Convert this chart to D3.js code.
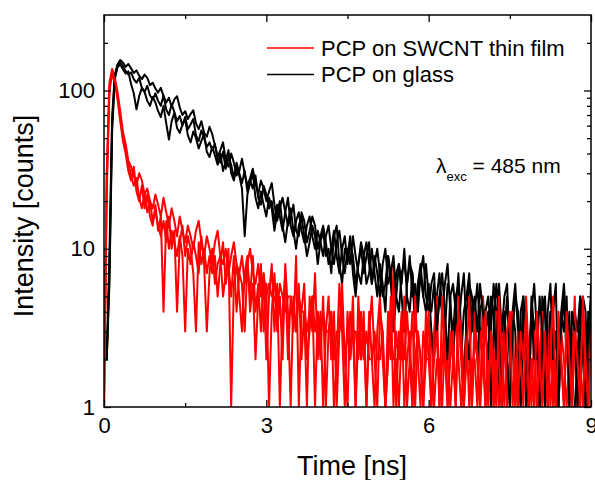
<!DOCTYPE html>
<html>
<head>
<meta charset="utf-8">
<script src="https://cdn.jsdelivr.net/npm/d3@7"></script>
<style>
  body { margin: 0; background: #fff; }
  svg { display: block; font-family: "Liberation Sans", Arial, Helvetica, sans-serif; }
</style>
</head>
<body>
<svg id="chart"></svg>
<script>
// photon counts per channel, channel width 0.05 ns, t = 0 .. 9 ns
const timeStep = 0.05;

const glass1 = [
  2, 2, 9, 68, 126, 146, 156, 150, 141, 147, 138, 129, 134, 124, 118, 126, 120, 108, 112, 103,
  97, 104, 92, 84, 90, 79, 88, 92, 78, 70, 74, 66, 71, 75, 62, 57, 64, 54, 51, 59,
  53, 45, 38, 42, 47, 36, 33, 40, 35, 29, 31, 37, 30, 25, 28, 32, 26, 22, 27, 24,
  20, 23, 26, 19, 15, 18, 21, 17, 14, 16, 19, 13, 12, 17, 15, 11, 13, 16, 14, 10,
  12, 14, 11, 8, 10, 13, 9, 7, 10, 12, 8, 11, 9, 6, 8, 10, 7, 9, 11, 6,
  8, 10, 7, 5, 6, 9, 6, 4, 7, 8, 5, 3, 6, 8, 7, 4, 5, 7, 9, 5,
  4, 6, 7, 3, 5, 4, 6, 8, 4, 3, 5, 6, 2, 4, 5, 7, 3, 4, 6, 3,
  2, 4, 5, 3, 6, 4, 1, 3, 5, 6, 2, 4, 3, 1, 4, 5, 1, 2, 4, 6,
  3, 1, 5, 4, 1, 3, 4, 6, 1, 3, 5, 2, 4, 1, 1, 2, 5, 4, 1, 3, 5
];
const glass2 = [
  2, 2, 6, 55, 118, 140, 146, 136, 128, 132, 110, 96, 76, 92, 104, 98, 86, 80, 91, 84,
  74, 68, 80, 62, 49, 64, 72, 58, 54, 61, 66, 52, 47, 55, 50, 43, 48, 53, 41, 38,
  44, 39, 34, 40, 31, 36, 42, 30, 27, 33, 29, 24, 12, 22, 26, 30, 21, 18, 23, 19,
  16, 21, 18, 13, 17, 20, 14, 11, 15, 18, 13, 10, 14, 16, 12, 9, 11, 14, 12, 8,
  11, 13, 9, 10, 7, 12, 14, 8, 6, 10, 9, 12, 7, 5, 8, 11, 9, 6, 7, 10,
  7, 5, 8, 6, 4, 9, 7, 3, 5, 8, 6, 10, 5, 4, 7, 3, 6, 8, 5, 4,
  6, 3, 2, 5, 7, 4, 3, 6, 5, 2, 4, 7, 3, 1, 4, 6, 5, 3, 2, 4,
  5, 3, 4, 1, 3, 6, 4, 1, 3, 5, 2, 4, 6, 3, 1, 3, 4, 1, 5, 3,
  4, 1, 3, 5, 2, 4, 3, 1, 2, 4, 6, 3, 2, 1, 4, 3, 5, 2, 1, 4, 3
];
const glass3 = [
  2, 2, 7, 62, 122, 144, 150, 142, 133, 126, 130, 118, 112, 120, 104, 98, 107, 93, 88, 96,
  86, 80, 93, 76, 70, 82, 73, 64, 69, 60, 68, 57, 61, 66, 52, 48, 56, 50, 44, 47,
  42, 46, 37, 35, 41, 32, 38, 34, 28, 35, 30, 26, 31, 23, 27, 24, 29, 21, 19, 25,
  22, 18, 20, 15, 19, 16, 13, 17, 21, 14, 12, 15, 17, 13, 11, 14, 16, 12, 10, 13,
  11, 9, 12, 14, 10, 8, 11, 13, 9, 7, 10, 8, 12, 9, 7, 6, 9, 11, 8, 6,
  9, 7, 5, 8, 10, 6, 7, 9, 5, 4, 7, 8, 6, 9, 5, 6, 4, 7, 5, 8,
  5, 4, 6, 3, 5, 7, 4, 2, 5, 6, 4, 3, 5, 7, 3, 2, 4, 5, 3, 6,
  4, 3, 2, 5, 4, 2, 6, 3, 4, 2, 1, 3, 5, 4, 2, 5, 3, 1, 4, 2,
  2, 5, 3, 1, 4, 6, 2, 3, 1, 4, 3, 5, 1, 4, 3, 1, 3, 5, 4, 1, 6
];

const swcnt1 = [
  1, 30, 112, 137, 120, 98, 74, 55, 46, 36, 33, 29, 25, 30, 27, 22, 24, 20, 18, 22,
  19, 16, 21, 17, 14, 18, 15, 12, 16, 13, 11, 14, 12, 10, 13, 15, 11, 9, 12, 10,
  8, 11, 13, 9, 8, 10, 7, 9, 11, 8, 7, 9, 6, 8, 10, 7, 6, 8, 5, 7,
  5, 6, 5, 5, 4, 6, 5, 4, 5, 5, 4, 3, 5, 4, 4, 3, 4, 5, 3, 4,
  3, 4, 3, 3, 4, 2, 3, 3, 4, 2, 3, 2, 3, 3, 2, 4, 2, 3, 2, 2,
  3, 2, 2, 3, 1, 2, 3, 2, 2, 1, 3, 2, 4, 2, 1, 2, 3, 2, 1, 2,
  2, 3, 1, 2, 2, 1, 3, 2, 1, 2, 4, 2, 1, 2, 3, 1, 2, 2, 1, 3,
  2, 1, 2, 3, 1, 2, 1, 2, 4, 1, 2, 3, 1, 2, 1, 3, 2, 1, 2, 1,
  3, 1, 2, 1, 2, 4, 1, 2, 1, 3, 2, 1, 2, 1, 3, 1, 2, 4, 1, 2, 3
];
const swcnt2 = [
  1, 22, 98, 128, 112, 88, 64, 48, 40, 31, 27, 33, 23, 20, 25, 18, 22, 16, 14, 19,
  13, 16, 4, 15, 10, 13, 11, 9, 12, 9, 3, 10, 8, 11, 9, 7, 12, 8, 3, 7,
  10, 6, 8, 9, 5, 7, 10, 1, 6, 8, 5, 3, 7, 9, 4, 6, 2, 5, 8, 3,
  6, 1, 4, 7, 3, 5, 2, 8, 4, 1, 5, 3, 6, 2, 4, 1, 5, 3, 7, 2,
  4, 1, 3, 5, 2, 4, 1, 3, 6, 2, 1, 4, 3, 1, 5, 2, 3, 1, 4, 2,
  1, 3, 5, 2, 1, 4, 2, 8, 1, 3, 2, 5, 1, 2, 4, 1, 3, 2, 1, 4,
  2, 1, 3, 5, 1, 2, 4, 1, 2, 3, 1, 5, 2, 1, 3, 2, 1, 4, 2, 1,
  5, 1, 2, 3, 1, 4, 2, 1, 3, 1, 2, 4, 1, 3, 2, 1, 5, 2, 1, 3,
  1, 2, 4, 1, 3, 1, 2, 1, 4, 2, 1, 3, 1, 2, 5, 1, 2, 1, 3, 1, 4
];
const swcnt3 = [
  1, 26, 105, 132, 116, 92, 68, 51, 42, 35, 29, 25, 28, 21, 18, 22, 17, 20, 15, 17,
  14, 12, 15, 11, 16, 10, 13, 4, 11, 14, 9, 12, 10, 7, 3, 11, 8, 10, 7, 9,
  7, 9, 5, 8, 11, 6, 8, 5, 9, 4, 7, 6, 3, 8, 5, 9, 4, 6, 3, 7,
  2, 5, 8, 3, 6, 1, 4, 7, 2, 5, 3, 9, 1, 4, 6, 2, 3, 5, 1, 4,
  2, 5, 1, 3, 4, 1, 2, 6, 3, 1, 4, 2, 5, 1, 3, 2, 4, 1, 3, 5,
  2, 1, 4, 3, 1, 2, 5, 1, 3, 2, 4, 1, 2, 3, 1, 5, 2, 1, 3, 2,
  4, 1, 2, 3, 1, 5, 2, 1, 3, 2, 1, 4, 3, 1, 2, 5, 1, 3, 2, 1,
  2, 4, 1, 3, 2, 1, 5, 2, 1, 3, 4, 1, 2, 1, 3, 2, 4, 1, 2, 1,
  4, 2, 1, 3, 1, 2, 5, 1, 3, 2, 1, 4, 2, 1, 3, 2, 1, 5, 2, 1, 3
];

const xMajor = [0, 3, 6, 9];
const xMinor = [1.5, 4.5, 7.5];
const yMajor = [1, 10, 100];
const yMinor = [2, 3, 4, 5, 6, 7, 8, 9, 20, 30, 40, 50, 60, 70, 80, 90, 200];
const legendLabels = ["PCP on SWCNT thin film", "PCP on glass"];

const width = 595, height = 480;
const margin = {top: 15, right: 4, bottom: 73, left: 104};

const svg = d3.select("#chart")
    .attr("width", width)
    .attr("height", height)
    .attr("viewBox", [0, 0, width, height]);

const x = d3.scaleLinear()
    .domain([0, 9])
    .range([margin.left, width - margin.right]);
const y = d3.scaleLog()
    .domain([1, 300])
    .range([height - margin.bottom, margin.top]);

const colors = {swcnt: "#ff0000", glass: "#000000"};

svg.append("defs").append("clipPath")
    .attr("id", "clip")
  .append("rect")
    .attr("x", margin.left)
    .attr("y", margin.top)
    .attr("width", width - margin.left - margin.right)
    .attr("height", height - margin.top - margin.bottom);

// curves
const series = [
  {values: glass1, color: colors.glass},
  {values: swcnt1, color: colors.swcnt},
  {values: glass2, color: colors.glass},
  {values: swcnt2, color: colors.swcnt},
  {values: glass3, color: colors.glass},
  {values: swcnt3, color: colors.swcnt}
];

const line = d3.line()
    .x((d, i) => x(i * timeStep))
    .y(d => y(Math.max(d, 1)));

svg.append("g")
    .attr("clip-path", "url(#clip)")
    .selectAll("path")
    .data(series)
    .join("path")
    .attr("fill", "none")
    .attr("stroke", d => d.color)
    .attr("stroke-width", 2)
    .attr("stroke-linejoin", "round")
    .attr("d", d => line(d.values));

// axes with inward ticks on all sides
const tickFont = 22;
const axisStyle = g => g
    .call(g => g.select(".domain").remove())
    .call(g => g.selectAll(".tick line").attr("stroke", "#000").attr("stroke-width", 1.3))
    .call(g => g.selectAll("text").attr("fill", "#000").attr("font-size", tickFont).attr("font-family", null));

svg.append("g")
    .attr("transform", `translate(0,${height - margin.bottom})`)
    .call(d3.axisBottom(x).tickValues(xMajor).tickSize(-7).tickPadding(10).tickFormat(d3.format("d")))
    .call(axisStyle);
svg.append("g")
    .attr("transform", `translate(0,${height - margin.bottom})`)
    .call(d3.axisBottom(x).tickValues(xMinor).tickSize(-4).tickFormat(""))
    .call(axisStyle);
svg.append("g")
    .attr("transform", `translate(0,${margin.top})`)
    .call(d3.axisTop(x).tickValues(xMajor).tickSize(-7).tickFormat(""))
    .call(axisStyle);
svg.append("g")
    .attr("transform", `translate(0,${margin.top})`)
    .call(d3.axisTop(x).tickValues(xMinor).tickSize(-4).tickFormat(""))
    .call(axisStyle);

svg.append("g")
    .attr("transform", `translate(${margin.left},0)`)
    .call(d3.axisLeft(y).tickValues(yMajor).tickSize(-7).tickPadding(9).tickFormat(d3.format("d")))
    .call(axisStyle);
svg.append("g")
    .attr("transform", `translate(${margin.left},0)`)
    .call(d3.axisLeft(y).tickValues(yMinor).tickSize(-4).tickFormat(""))
    .call(axisStyle);
svg.append("g")
    .attr("transform", `translate(${width - margin.right},0)`)
    .call(d3.axisRight(y).tickValues(yMajor).tickSize(-7).tickFormat(""))
    .call(axisStyle);
svg.append("g")
    .attr("transform", `translate(${width - margin.right},0)`)
    .call(d3.axisRight(y).tickValues(yMinor).tickSize(-4).tickFormat(""))
    .call(axisStyle);

// frame
svg.append("rect")
    .attr("x", margin.left)
    .attr("y", margin.top)
    .attr("width", width - margin.left - margin.right)
    .attr("height", height - margin.top - margin.bottom)
    .attr("fill", "none")
    .attr("stroke", "#000")
    .attr("stroke-width", 1.5);

// axis titles
svg.append("text")
    .attr("x", 352)
    .attr("y", 475)
    .attr("text-anchor", "middle")
    .attr("font-size", 27)
    .text("Time [ns]");
svg.append("text")
    .attr("transform", "translate(33,216) rotate(-90)")
    .attr("text-anchor", "middle")
    .attr("font-size", 27)
    .text("Intensity [counts]");

// legend
const legend = svg.append("g")
    .selectAll("g")
    .data(legendLabels)
    .join("g")
    .attr("transform", (d, i) => `translate(267,${48 + i * 26.5})`);
legend.append("line")
    .attr("x1", 0).attr("x2", 47)
    .attr("stroke", (d, i) => i === 0 ? colors.swcnt : colors.glass)
    .attr("stroke-width", 1.7);
legend.append("text")
    .attr("x", 54)
    .attr("y", 7.5)
    .attr("font-size", 22)
    .text(d => d);

// excitation wavelength note
const note = svg.append("text")
    .attr("x", 436)
    .attr("y", 173)
    .attr("font-size", 21);
note.append("tspan").text("λ");
note.append("tspan").attr("font-size", 13).attr("dy", 8).text("exc");
note.append("tspan").attr("dy", -8).text(" = 485 nm");
</script>
</body>
</html>
